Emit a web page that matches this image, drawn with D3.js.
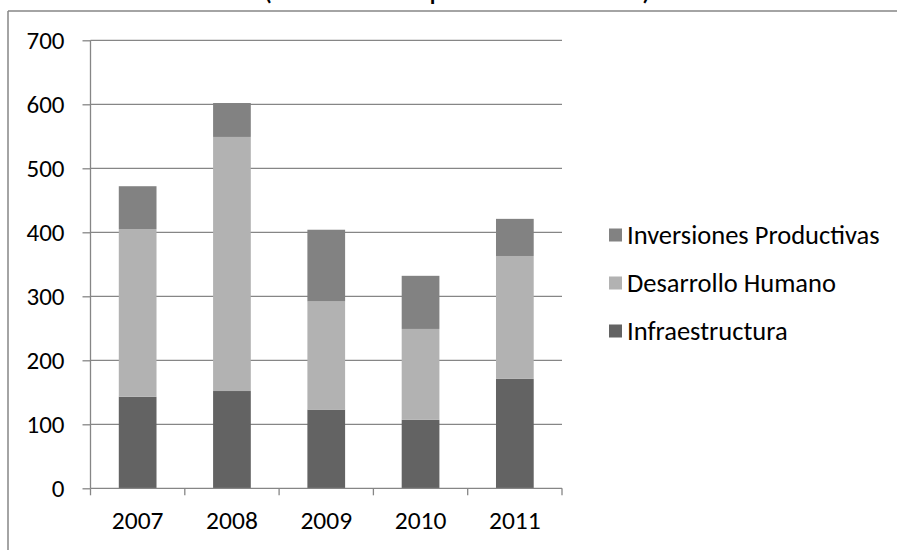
<!DOCTYPE html>
<html><head><meta charset="utf-8">
<script src="https://cdn.jsdelivr.net/npm/d3@7"></script>
<style>
html,body{margin:0;padding:0;background:#fff;}
svg{display:block;}
text{font-family:Carlito, Calibri, "Open Sans", sans-serif;fill:#000;}
</style></head>
<body>
<script>
const titleText = "(millones de pesos corrientes)";
const years = ["2007","2008","2009","2010","2011"];
const seriesNames = ["Infraestructura","Desarrollo Humano","Inversiones Productivas"];
const infraestructura = [143,152,123,107,171];
const desarrolloHumano = [262,397,169,142,192];
const inversionesProductivas = [67,53,112,83,58];
const yTicks = [0,100,200,300,400,500,600,700];

const W=897,H=550;
const colors = {"Infraestructura":"#636363","Desarrollo Humano":"#b2b2b2","Inversiones Productivas":"#828282"};
const svg = d3.select("body").append("svg").attr("width",W).attr("height",H);

const rows = years.map((y,i)=>({year:y,"Infraestructura":infraestructura[i],"Desarrollo Humano":desarrolloHumano[i],"Inversiones Productivas":inversionesProductivas[i]}));
const stacked = d3.stack().keys(seriesNames)(rows);

const x = d3.scaleBand().domain(years).range([90.5,562]).paddingInner(0.6).paddingOuter(0.3);
const xOuter = d3.scaleBand().domain(years).range([90.5,562]);
const y = d3.scaleLinear().domain([0,700]).range([488.3,40.3]);

// frame
svg.append("line").attr("x1",8).attr("x2",W).attr("y1",11).attr("y2",11).attr("stroke","#868686").attr("stroke-width",1.5);
svg.append("line").attr("x1",8).attr("x2",8).attr("y1",11).attr("y2",H).attr("stroke","#868686").attr("stroke-width",1.5);

// title (cropped at top in the reference)
svg.append("text").attr("x",457).attr("y",-1).attr("text-anchor","middle").style("font-size","32px").text(titleText);

// gridlines
svg.append("g").selectAll("line").data(yTicks.filter(d=>d>0)).join("line")
  .attr("x1",90.5).attr("x2",562).attr("y1",d=>y(d)).attr("y2",d=>y(d))
  .attr("stroke","#868686").attr("stroke-width",1.3);

// bars
svg.append("g").selectAll("g").data(stacked).join("g").attr("fill",d=>colors[d.key])
  .selectAll("rect").data(d=>d).join("rect")
  .attr("x",d=>x(d.data.year)).attr("width",x.bandwidth())
  .attr("y",d=>y(d[1])).attr("height",d=>y(d[0])-y(d[1]));

// y axis
const yAxis = d3.axisLeft(y).tickValues(yTicks).tickSize(8).tickPadding(18);
const gy = svg.append("g").attr("transform","translate(90.5,0)").call(yAxis);
gy.select(".domain").attr("stroke","#868686").attr("stroke-width",1.3).attr("d","M0,"+y(0)+"V"+y(700));
gy.selectAll(".tick line").attr("stroke","#868686").attr("stroke-width",1.3);
gy.selectAll(".tick text").style("font-size","25px").attr("fill","#000");

// x axis
const xAxis = d3.axisBottom(xOuter).tickSize(0);
const gx = svg.append("g").attr("transform","translate(0,"+y(0)+")").call(xAxis);
gx.select(".domain").attr("stroke","#868686").attr("stroke-width",1.3).attr("d","M90.5,0H562");
gx.selectAll(".tick text").style("font-size","25.5px").attr("fill","#000").attr("y",41).attr("dy","0");
// category boundary ticks
const bounds = [90.5].concat(years.map(d=>xOuter(d)+xOuter.bandwidth()));
gx.append("g").selectAll("line").data(bounds).join("line")
  .attr("x1",d=>d).attr("x2",d=>d).attr("y1",0).attr("y2",7)
  .attr("stroke","#868686").attr("stroke-width",1.3);

// legend
const legendOrder = seriesNames.slice().reverse();
const lg = svg.append("g");
const li = lg.selectAll("g").data(legendOrder).join("g")
  .attr("transform",(d,i)=>"translate(609,"+(235+i*48)+")");
li.append("rect").attr("x",0).attr("y",-6.5).attr("width",13).attr("height",13).attr("fill",d=>colors[d]);
li.append("text").attr("x",18).attr("y",0).attr("dy","0.35em").style("font-size","26.5px").text(d=>d);
</script>
</body></html>
